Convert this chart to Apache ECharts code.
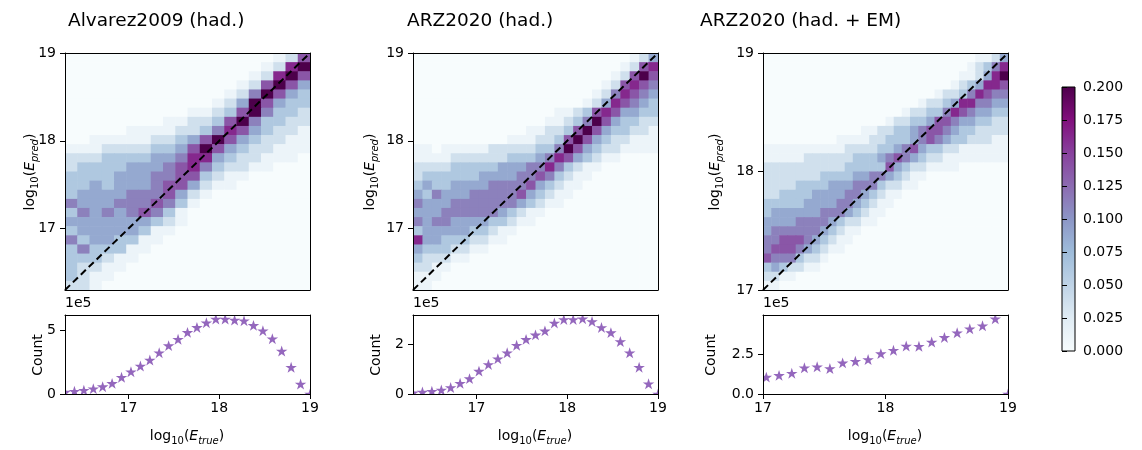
<!DOCTYPE html>
<html><head><meta charset="utf-8">
<script src="https://cdn.jsdelivr.net/npm/echarts@6/dist/echarts.min.js"></script>
<style>html,body{margin:0;padding:0;background:#fff}#c{width:1142px;height:450px}</style>
</head><body><div id="c"></div>
<script>
// ---------------- DATA ----------------
// bin edges of log10(E_true) used by the count plots (and y bins of panels 1-2)
const E_EDGES = [16.30,16.404,16.508,16.612,16.715,16.819,16.923,17.027,17.131,17.235,17.338,17.442,17.546,17.650,17.754,17.858,17.962,18.065,18.169,18.273,18.377,18.481,18.585,18.688,18.792,18.896,19.00];
const H1_X_EDGES = [16.30,16.435,16.57,16.705,16.84,16.975,17.11,17.245,17.38,17.515,17.65,17.785,17.92,18.055,18.19,18.325,18.46,18.595,18.73,18.865,19.00];
const H1_Y_EDGES = E_EDGES;
const H2_X_EDGES = E_EDGES;
const H2_Y_EDGES = E_EDGES;
const H3_X_EDGES = [17.000,17.067,17.133,17.200,17.267,17.333,17.400,17.467,17.533,17.600,17.667,17.733,17.800,17.867,17.933,18.000,18.067,18.133,18.200,18.267,18.333,18.400,18.467,18.533,18.600,18.667,18.733,18.800,18.867,18.933,19.000];
const H3_Y_EDGES = [17.000,17.077,17.154,17.231,17.308,17.385,17.462,17.538,17.615,17.692,17.769,17.846,17.923,18.000,18.077,18.154,18.231,18.308,18.385,18.462,18.538,18.615,18.692,18.769,18.846,18.923,19.000];

// heat-map cells, rows from top (high E_pred) to bottom; each digit is a colour class
const LEVELS = [0, 0.0125, 0.0375, 0.0625, 0.0875, 0.1125, 0.1375, 0.1625, 0.2];
const H1_ROWS = [
"00000000000000000126","00000000000000001278","00000000000000012786","00000000000000126864",
"00000000000001258643","00000000000012486433","00000000001123685332","00000000112236853322",
"00000111122357643221","00111112234686432211","11122223346864322111","22233334457743221110",
"23333444567532211000","33334445566321100000","33434445664211000000","34444555642100000000",
"54445556531000000000","35454565310000000000","44444443210000000000","34444431100000000000",
"53443311000000000000","35333110000000000000","33321100000000000000","32211000000000000000",
"32110000000000000000","22100000000000000000"];
const H2_ROWS = [
"00000000000000000000000124","00000000000000000000001267","00000000000000000000012686",
"00000000000000000000126765","00000000000000000001257654","00000000000000000012476543",
"00000000000000011236764433","00000000000000112358643322","00000000000011223686433221",
"00000000001112236864322111","11011111222223358643221111","11112222223334576432110000",
"22223333344455753211000000","23333334444556532110000000","34334444555564321100000000",
"43544455555643211000000000","54445555555432110000000000","44455555543211000000000000",
"54554444332110000000000000","34444433211000000000000000","74433322110000000000000000",
"43332211000000000000000000","32221100000000000000000000","22110000000000000000000000",
"11100000000000000000000000","11000000000000000000000000"];
const H3_ROWS = [
"000000000000000000000000001124","000000000000000000000000012357","000000000000000000000000112478",
"000000000000000000000001234776","000000000000000000000122357655","000000000000000000012234775544",
"000000000000000001223357654433","000000000000000122334665443322","000000000000112233456654332222",
"000000000111122333456543322211","111111111122223345643322111111","111112222223334565432211111111",
"222222222233333643221111000000","222222233334455432110000000000","222233334445553221100000000000",
"223333444455432110000000000000","333334444554321100000000000000","344444455543211000000000000000",
"444455554322110000000000000000","455555543211000000000000000000","556665432110000000000000000000",
"566654321100000000000000000000","655532210000000000000000000000","343221100000000000000000000000",
"221100000000000000000000000000","110000000000000000000000000000"];

// counts (units of 1e5)
const C1_X = E_EDGES;
const C1_Y = [0.15,0.22,0.30,0.42,0.58,0.84,1.32,1.76,2.21,2.68,3.26,3.82,4.32,4.87,5.26,5.63,5.92,5.92,5.84,5.79,5.42,5.00,4.37,3.39,2.11,0.79,0];
const C2_X = E_EDGES;
const C2_Y = [0.05,0.08,0.11,0.16,0.26,0.43,0.62,0.92,1.19,1.42,1.66,1.96,2.20,2.38,2.54,2.86,3.00,3.00,3.03,2.92,2.68,2.47,2.11,1.66,1.08,0.41,0];
const C3_X = [17.027,17.131,17.235,17.338,17.442,17.546,17.650,17.754,17.858,17.962,18.065,18.169,18.273,18.377,18.481,18.585,18.688,18.792,18.896,19.00];
const C3_Y = [1.06,1.17,1.31,1.65,1.71,1.60,1.96,2.06,2.17,2.54,2.75,3.02,3.00,3.27,3.56,3.85,4.10,4.29,4.73,0];

const C1_YMAX = 6.24, C2_YMAX = 3.18, C3_YMAX = 4.97;
const E_TICKS = [17, 18, 19];
const C1_TICKS = [0, 5], C2_TICKS = [0, 2], C3_TICKS = [0, 2.5];
const CB_MIN = 0, CB_MAX = 0.2, CB_STEP = 0.025;
const TITLES = ['Alvarez2009 (had.)', 'ARZ2020 (had.)', 'ARZ2020 (had. + EM)'];
const BUPU = ['#f7fcfd','#e0ecf4','#bfd3e6','#9ebcda','#8c96c6','#8c6bb1','#88419d','#810f7c','#4d004b'];

// ---------------- BUILD ----------------
const FONT = "'DejaVu Sans', sans-serif";
const STAR_COLOR = '#9467bd';
const STAR = 'M0,-10L2.245,-3.09L9.51,-3.09L3.633,1.18L5.878,8.09L0,3.82L-5.878,8.09L-3.633,1.18L-9.51,-3.09L-2.245,-3.09Z';

function cells(rows, xe, ye) {
  const n = ye.length - 1, m = xe.length - 1, out = [];
  for (let r = 0; r < n; r++) {
    const row = (rows[r] || '').padEnd(m, '0');
    const j = n - 1 - r;
    for (let i = 0; i < m; i++) {
      out.push([xe[i], xe[i + 1], ye[j], ye[j + 1], LEVELS[parseInt(row[i], 10)]]);
    }
  }
  return out;
}

const GRIDS = [
  {left: 65,  top: 53,  width: 245, height: 237},
  {left: 65,  top: 315, width: 245, height: 79},
  {left: 413, top: 53,  width: 245, height: 237},
  {left: 413, top: 315, width: 245, height: 79},
  {left: 763, top: 53,  width: 245, height: 237},
  {left: 763, top: 315, width: 245, height: 79},
  {left: 1062, top: 87, width: 13, height: 264}
];

const tickFont = {color: '#000', fontSize: 14, fontFamily: FONT};
function xAx(g, min, max, ticks, labels, fmt) {
  return {type: 'value', gridIndex: g, min, max, position: 'bottom', z: 5,
    axisLine: {show: true, onZero: false, lineStyle: {color: '#000', width: 1}},
    axisTick: {show: !!ticks, customValues: ticks || undefined, length: 5, lineStyle: {color: '#000'}},
    axisLabel: Object.assign({show: labels, customValues: ticks || undefined, margin: 7, formatter: fmt}, tickFont),
    splitLine: {show: false}};
}
function yAx(g, min, max, ticks, fmt) {
  return {type: 'value', gridIndex: g, min, max, position: 'left', z: 5,
    axisLine: {show: true, onZero: false, lineStyle: {color: '#000', width: 1}},
    axisTick: {show: true, customValues: ticks, length: 5, lineStyle: {color: '#000'}},
    axisLabel: Object.assign({show: true, customValues: ticks, margin: 9, formatter: fmt}, tickFont),
    splitLine: {show: false}};
}
function frameX(g) {
  return {type: 'value', gridIndex: g, position: 'top', min: 0, max: 1, z: 5,
    axisLine: {show: true, onZero: false, lineStyle: {color: '#000', width: 1}},
    axisTick: {show: false}, axisLabel: {show: false}, splitLine: {show: false}};
}
function frameY(g) {
  return {type: 'value', gridIndex: g, position: 'right', min: 0, max: 1, z: 5,
    axisLine: {show: true, onZero: false, lineStyle: {color: '#000', width: 1}},
    axisTick: {show: false}, axisLabel: {show: false}, splitLine: {show: false}};
}
const fmt1 = v => String(v);
const fmt25 = v => v.toFixed(1);

const xAxes = [
  xAx(0, 16.3, 19, null, false),
  xAx(1, 16.3, 19, E_TICKS, true, fmt1),
  xAx(2, 16.3, 19, null, false),
  xAx(3, 16.3, 19, E_TICKS, true, fmt1),
  xAx(4, 17, 19, null, false),
  xAx(5, 17, 19, E_TICKS, true, fmt1),
  {type: 'value', gridIndex: 6, min: 0, max: 1, show: false}
];
const yAxes = [
  yAx(0, 16.3, 19, E_TICKS, fmt1),
  yAx(1, 0, C1_YMAX, C1_TICKS, fmt1),
  yAx(2, 16.3, 19, E_TICKS, fmt1),
  yAx(3, 0, C2_YMAX, C2_TICKS, fmt1),
  yAx(4, 17, 19, E_TICKS, fmt1),
  yAx(5, 0, C3_YMAX, C3_TICKS, fmt25),
  {type: 'value', gridIndex: 6, min: CB_MIN, max: CB_MAX, interval: CB_STEP, position: 'right', z: 5,
    axisLine: {show: false}, axisTick: {show: true, length: 5, lineStyle: {color: '#000'}},
    axisLabel: Object.assign({margin: 8, formatter: v => v.toFixed(3)}, tickFont), splitLine: {show: false}}
];
for (let g = 0; g < 6; g++) { xAxes.push(frameX(g)); yAxes.push(frameY(g)); }

function cellRender(params, api) {
  const p0 = api.coord([api.value(0), api.value(2)]);
  const p1 = api.coord([api.value(1), api.value(3)]);
  return {type: 'rect',
    shape: {x: Math.min(p0[0], p1[0]), y: Math.min(p0[1], p1[1]),
            width: Math.abs(p1[0] - p0[0]) + 0.6, height: Math.abs(p1[1] - p0[1]) + 0.6},
    style: {fill: api.visual('color')}};
}
function starRender(params, api) {
  const p = api.coord([api.value(0), api.value(1)]);
  const s = 11.5;
  return {type: 'path', shape: {pathData: STAR, x: p[0] - s / 2, y: p[1] - s / 2, width: s, height: s, layout: 'center'},
    style: {fill: STAR_COLOR}};
}
function heat(idx, rows, xe, ye) {
  return {type: 'custom', xAxisIndex: idx, yAxisIndex: idx, clip: true, z: 2,
    encode: {x: [0, 1], y: [2, 3]}, renderItem: cellRender, data: cells(rows, xe, ye)};
}
function diag(idx, lo, hi) {
  return {type: 'line', xAxisIndex: idx, yAxisIndex: idx, z: 4, clip: true, silent: true,
    symbol: 'none', lineStyle: {color: '#000', width: 2, type: [7, 4]}, data: [[lo, lo], [hi, hi]]};
}
function stars(idx, xs, ys) {
  return {type: 'custom', xAxisIndex: idx, yAxisIndex: idx, clip: true, z: 3,
    renderItem: starRender, data: xs.map((x, i) => [x, ys[i]])};
}
const cbStops = BUPU.map((c, i) => ({offset: i / (BUPU.length - 1), color: c}));
const colorbar = {type: 'custom', xAxisIndex: 6, yAxisIndex: 6, z: 2,
  data: [[0, CB_MIN, 1, CB_MAX]],
  renderItem: (params, api) => {
    const p0 = api.coord([api.value(0), api.value(1)]);
    const p1 = api.coord([api.value(2), api.value(3)]);
    return {type: 'rect', shape: {x: p0[0], y: p1[1], width: p1[0] - p0[0], height: p0[1] - p1[1]},
      style: {fill: new echarts.graphic.LinearGradient(0, 1, 0, 0, cbStops), stroke: '#000', lineWidth: 1}};
  }};

const rich = {
  n: {fontSize: 14, fontFamily: FONT, color: '#000', lineHeight: 20},
  i: {fontSize: 14, fontFamily: FONT, fontStyle: 'italic', color: '#000', lineHeight: 20},
  s: {fontSize: 10, fontFamily: FONT, color: '#000', lineHeight: 10, verticalAlign: 'bottom'},
  si: {fontSize: 10, fontFamily: FONT, fontStyle: 'italic', color: '#000', lineHeight: 10, verticalAlign: 'bottom'}
};
const PRED = '{n|log}{s|10}{n|(}{i|E}{si|pred}{n|)}';
const TRUE = '{n|log}{s|10}{n|(}{i|E}{si|true}{n|)}';
function txt(x, y, text, opts) {
  return Object.assign({type: 'text', x, y, style: Object.assign({text, fill: '#000', fontFamily: FONT, fontSize: 14,
    align: 'center', verticalAlign: 'middle', rich}, (opts && opts.style) || {})}, (opts && opts.el) || {});
}
const graphics = [];
[[68, TITLES[0]], [407, TITLES[1]], [700, TITLES[2]]].forEach(([x, t]) =>
  graphics.push(txt(x, 21, t, {style: {align: 'left', fontSize: 18.5}})));
[[30, 172], [370, 172], [715, 172]].forEach(([x, y]) =>
  graphics.push(txt(x, y, PRED, {el: {rotation: Math.PI / 2}})));
[[38, 355], [376, 355], [711, 355]].forEach(([x, y]) =>
  graphics.push(txt(x, y, 'Count', {el: {rotation: Math.PI / 2}})));
[187, 535, 885].forEach(x => graphics.push(txt(x, 436, TRUE)));
[65, 413, 763].forEach(x => graphics.push(txt(x, 303, '1e5', {style: {align: 'left'}})));

const option = {
  animation: false,
  backgroundColor: '#fff',
  grid: GRIDS,
  xAxis: xAxes,
  yAxis: yAxes,
  visualMap: {type: 'continuous', show: false, min: CB_MIN, max: CB_MAX, dimension: 4, seriesIndex: [0, 1, 2],
    inRange: {color: BUPU}},
  series: [
    heat(0, H1_ROWS, H1_X_EDGES, H1_Y_EDGES),
    heat(2, H2_ROWS, H2_X_EDGES, H2_Y_EDGES),
    heat(4, H3_ROWS, H3_X_EDGES, H3_Y_EDGES),
    diag(0, 16.3, 19), diag(2, 16.3, 19), diag(4, 17, 19),
    stars(1, C1_X, C1_Y), stars(3, C2_X, C2_Y), stars(5, C3_X, C3_Y),
    colorbar
  ],
  graphic: graphics
};
const chart = echarts.init(document.getElementById('c'), null, {renderer: 'canvas'});
chart.setOption(option);
</script></body></html>
